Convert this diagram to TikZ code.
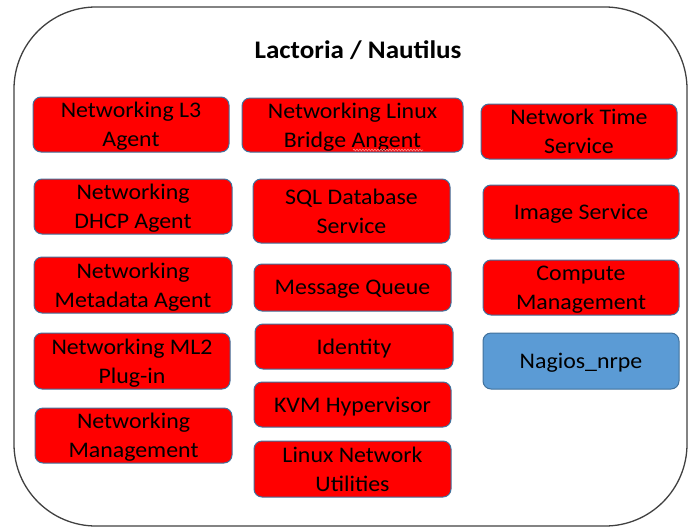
\documentclass[tikz,border=0pt]{standalone}
\usepackage{fontspec}
\setmainfont{Carlito}[FakeStretch=1.07]
\usetikzlibrary{decorations.pathmorphing}
\definecolor{boxred}{HTML}{FF0000}
\definecolor{boxblue}{HTML}{5B9BD5}
\definecolor{boxedge}{HTML}{41719C}
\definecolor{outeredge}{HTML}{404040}
\definecolor{squig}{HTML}{FF8080}
\tikzset{
  rbox/.style={draw=boxedge, line width=1pt, fill=boxred, rounded corners=8pt,
    align=center, inner sep=0pt, text depth=0pt,
    font=\fontsize{22.3}{29}\selectfont},
  bluebox/.style={rbox, fill=boxblue},
  outerbox/.style={draw=outeredge, line width=1.3pt, rounded corners=82pt},
  titletext/.style={font=\fontsize{25.3}{30}\selectfont\bfseries, inner sep=0pt, anchor=base}
}
\begin{document}
\begin{tikzpicture}[x=1pt,y=-1pt]
\useasboundingbox (0,0) rectangle (688,528);
\draw[outerbox] (14,7) rectangle (687,526);
\node[titletext] (title) at (358,58) {Lactoria / Nautilus};
% column 1
\node[rbox, minimum width=196, minimum height=55] (l3) at (131,124.5) {Networking L3\\Agent};
\node[rbox, minimum width=198, minimum height=55] (dhcp) at (133,206.5) {Networking\\DHCP Agent};
\node[rbox, minimum width=198, minimum height=56] (meta) at (133,285) {Networking\\Metadata Agent};
\node[rbox, minimum width=196, minimum height=56] (ml2) at (132,361) {Networking ML2\\Plug-in};
\node[rbox, minimum width=197, minimum height=55] (mgmt) at (133.5,435.5) {Networking\\Management};
% column 2
\node[rbox, minimum width=221, minimum height=54] (bridge) at (352.5,125) {Networking Linux\\Bridge Angent};
\node[rbox, minimum width=197, minimum height=64] (sql) at (351.5,211) {SQL Database\\Service};
\node[rbox, minimum width=197, minimum height=47] (mq) at (352.5,287.5) {Message Queue};
\node[rbox, minimum width=198, minimum height=45] (ident) at (354,346.5) {Identity};
\node[rbox, minimum width=197, minimum height=45] (kvm) at (352.5,404.5) {KVM Hypervisor};
\node[rbox, minimum width=197, minimum height=56] (lnu) at (352.5,469) {Linux Network\\Utilities};
% column 3
\node[rbox, minimum width=196, minimum height=55] (ntp) at (579,131.5) {Network Time\\Service};
\node[rbox, minimum width=196, minimum height=54] (image) at (581,212) {Image Service};
\node[rbox, minimum width=196, minimum height=55] (compute) at (581,287.5) {Compute\\Management};
\node[bluebox, minimum width=196, minimum height=56] (nagios) at (581,361) {Nagios\_nrpe};
% spell-check squiggle
\draw[squig, line width=0.7pt, decorate, decoration={snake, amplitude=0.9pt, segment length=3pt}] (353,150) -- (423,150);
\end{tikzpicture}
\end{document}
